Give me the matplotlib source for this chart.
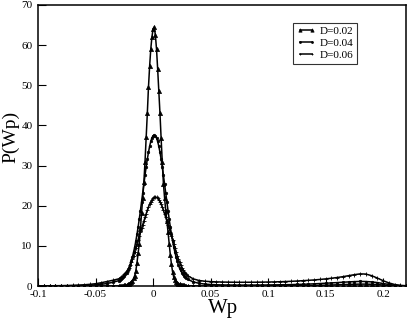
import numpy as np
import matplotlib
matplotlib.use("Agg")
import matplotlib.pyplot as plt

plt.rcParams['font.family'] = ['Liberation Serif', 'DejaVu Serif']

# sampling grid of Wp (coarse tails, fine centre)
x_left = np.round(np.arange(-0.100, -0.0299, 0.005), 3)
x_mid = np.round(np.arange(-0.029, 0.0291, 0.001), 3)
x_right = np.round(np.arange(0.030, 0.2201, 0.005), 3)
wp = np.concatenate([x_left, x_mid, x_right])

p_d002 = [
    0.0, 0.0, 0.0, 0.0, 0.0, 0.0, 0.0, 0.01, 0.01, 0.02, 0.02, 0.03, 0.04, 0.05, 0.06,
    0.08, 0.1, 0.12, 0.15, 0.2, 0.25, 0.32, 0.42, 0.55, 0.75, 1.0, 1.4, 1.9, 2.6, 3.8,
    5.8, 8.2, 10.6, 14.3, 18.2, 22.0, 25.8, 31.0, 37.0, 43.0, 49.5, 54.7, 59.0, 62.0,
    64.0, 64.5, 62.5, 59.0, 54.0, 48.5, 43.0, 36.8, 30.8, 25.5, 22.0, 18.8, 16.2, 13.5,
    10.6, 7.8, 5.4, 3.5, 2.2, 1.5, 1.1, 0.85, 0.65, 0.5, 0.38, 0.3, 0.22, 0.17, 0.13, 0.1,
    0.08, 0.05, 0.04, 0.03, 0.03, 0.03, 0.03, 0.03, 0.03, 0.03, 0.04, 0.04, 0.04, 0.05,
    0.05, 0.06, 0.07, 0.08, 0.09, 0.1, 0.12, 0.14, 0.17, 0.2, 0.24, 0.28, 0.33, 0.38,
    0.43, 0.47, 0.5, 0.5, 0.46, 0.38, 0.27, 0.16, 0.08, 0.04, 0.02,
]

p_d004 = [
    0.03, 0.04, 0.05, 0.06, 0.07, 0.09, 0.11, 0.14, 0.18, 0.24, 0.32, 0.45, 0.65, 0.95, 1.35,
    1.5, 1.7, 1.95, 2.2, 2.5, 2.9, 3.35, 3.9, 4.5, 5.3, 6.2, 7.2, 8.4, 9.7, 11.2,
    12.9, 14.7, 16.7, 18.8, 21.0, 23.2, 25.4, 27.6, 29.7, 31.6, 33.3, 34.8, 36.0, 36.9,
    37.4, 37.6, 37.4, 36.9, 36.0, 34.8, 33.3, 31.6, 29.7, 27.6, 25.4, 23.2, 21.0, 18.8,
    16.7, 14.7, 12.9, 11.2, 9.7, 8.4, 7.2, 6.2, 5.3, 4.5, 3.9, 3.35, 2.9, 2.5, 2.2, 1.95,
    1.7, 1.05, 0.7, 0.5, 0.4, 0.34, 0.3, 0.28, 0.27, 0.26, 0.26, 0.26, 0.27, 0.28,
    0.29, 0.31, 0.33, 0.35, 0.38, 0.42, 0.46, 0.51, 0.57, 0.64, 0.72, 0.8, 0.88, 0.97,
    1.05, 1.12, 1.17, 1.15, 1.05, 0.88, 0.65, 0.42, 0.22, 0.1, 0.05,
]

p_d006 = [
    0.06, 0.07, 0.08, 0.1, 0.12, 0.15, 0.19, 0.25, 0.33, 0.45, 0.6, 0.85, 1.15, 1.45, 1.8,
    1.95, 2.15, 2.35, 2.6, 2.9, 3.2, 3.6, 4.1, 4.6, 5.2, 5.9, 6.7, 7.6, 8.6, 9.6,
    10.6, 11.6, 12.6, 13.5, 14.4, 15.3, 16.2, 17.1, 18.0, 18.9, 19.7, 20.4, 21.0, 21.5,
    21.9, 22.1, 22.2, 22.1, 21.9, 21.5, 21.0, 20.4, 19.7, 18.9, 18.0, 17.1, 16.2, 15.3,
    14.4, 13.5, 12.6, 11.6, 10.6, 9.6, 8.6, 7.6, 6.7, 5.9, 5.2, 4.6, 4.1, 3.6, 3.2, 2.9,
    2.6, 1.8, 1.4, 1.22, 1.12, 1.06, 1.02, 0.99, 0.97, 0.96, 0.96, 0.97, 0.98, 1.0,
    1.02, 1.05, 1.09, 1.14, 1.2, 1.27, 1.35, 1.44, 1.54, 1.66, 1.8, 1.96, 2.14, 2.35,
    2.6, 2.85, 3.05, 3.0, 2.6, 2.0, 1.35, 0.8, 0.4, 0.2, 0.1,
]

labels = ["D=0.02", "D=0.04", "D=0.06"]
x_ticks = [-0.1, -0.05, 0, 0.05, 0.1, 0.15, 0.2]
x_ticklabels = ["-0.1", "-0.05", "0", "0.05", "0.1", "0.15", "0.2"]
y_ticks = [0, 10, 20, 30, 40, 50, 60, 70]

fig = plt.figure(figsize=(4.09, 3.27), dpi=100)
ax = fig.add_axes([0.093, 0.125, 0.900, 0.860])

ax.plot(wp, p_d002, color='k', lw=1.1, marker='^', ms=3.0, mew=0.5, label=labels[0])
ax.plot(wp, p_d004, color='k', lw=1.1, marker='o', ms=1.8, mew=0.5, label=labels[1])
ax.plot(wp, p_d006, color='k', lw=1.1, marker='+', ms=2.2, mew=0.6, label=labels[2])

ax.set_xlim(-0.1, 0.22)
ax.set_ylim(0, 70)
ax.set_xticks(x_ticks)
ax.set_xticklabels(x_ticklabels)
ax.set_yticks(y_ticks)
ax.tick_params(direction='in', length=6, width=0.8, labelsize=8, pad=3)
ax.tick_params(axis='y', pad=4)
for s in ax.spines.values():
    s.set_linewidth(1.1)

ax.set_xlabel("Wp", fontsize=15)
ax.set_ylabel("P(Wp)", fontsize=14)
ax.xaxis.set_label_coords(0.503, -0.045)
ax.yaxis.set_label_coords(-0.05, 0.53)

leg = ax.legend(loc='upper right', bbox_to_anchor=(0.866, 0.935), fontsize=8,
                frameon=True, fancybox=False, edgecolor='k', numpoints=2,
                handlelength=1.7, handletextpad=0.4, borderpad=0.3, labelspacing=0.2,
                borderaxespad=0, markerscale=0.8)
leg.get_frame().set_linewidth(0.8)

fig.savefig("out.png", dpi=100)
